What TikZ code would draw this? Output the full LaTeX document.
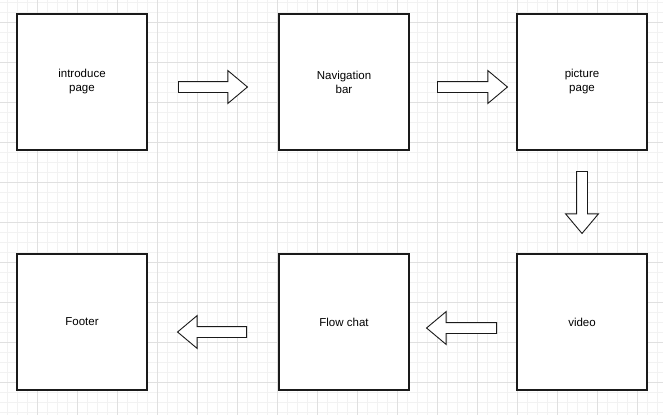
\documentclass[tikz,border=0pt]{standalone}
\usepackage{fontspec}
\setmainfont{Liberation Sans}
\usepackage{tikz}
\usetikzlibrary{shapes.arrows}
\definecolor{gridminor}{HTML}{F2F2F2}
\definecolor{gridmajor}{HTML}{E0E0E0}
\definecolor{stroke}{HTML}{1A1A1A}
\tikzset{
  page/.style={draw=stroke, line width=1.2pt, fill=white, minimum width=130pt, minimum height=136pt, inner sep=0pt, align=center, font=\fontsize{11.5}{14}\selectfont},
  flow/.style={single arrow, draw=stroke, line width=0.9pt, fill=white, minimum height=69pt, inner sep=5pt, single arrow head extend=11pt, single arrow tip angle=80, single arrow head indent=0pt, anchor=tail},
}

\begin{document}
\begin{tikzpicture}[x=1pt, y=-1pt]
  \useasboundingbox (0,0) rectangle (663,415);
  \fill[white] (0,0) rectangle (663,415);
  % background grid
  \foreach \gx in {7,17,...,657} \draw[gridminor, line width=0.8pt] (\gx,0) -- (\gx,415);
  \foreach \gy in {2,12,...,412} \draw[gridminor, line width=0.8pt] (0,\gy) -- (663,\gy);
  \foreach \gx in {37,77,...,637} \draw[gridmajor, line width=0.8pt] (\gx,0) -- (\gx,415);
  \foreach \gy in {22,62,...,402} \draw[gridmajor, line width=0.8pt] (0,\gy) -- (663,\gy);

  % top row
  \node[page] (intro)    at (82,82)  {introduce\\page};
  \node[page] (navbar)   at (344,82) {Navigation\\bar};
  \node[page] (picpage)  at (582,82) {picture\\page};
  % bottom row
  \node[page] (footer)   at (82,322)  {Footer};
  \node[page] (flowchat) at (344,322) {Flow chat};
  \node[page] (video)    at (582,322) {video};

  % block arrows (placed by their tail)
  \node[flow] (introtonav)   at (178,87) {};
  \node[flow, minimum height=70pt] (navtopic) at (437,87) {};
  \node[flow, rotate=-90, minimum height=62pt] (pictovideo) at (582,171) {};
  \node[flow, rotate=180, minimum height=70pt] (videotoflow) at (497,328) {};
  \node[flow, rotate=180] (flowtofoot)  at (247,332) {};
\end{tikzpicture}
\end{document}
